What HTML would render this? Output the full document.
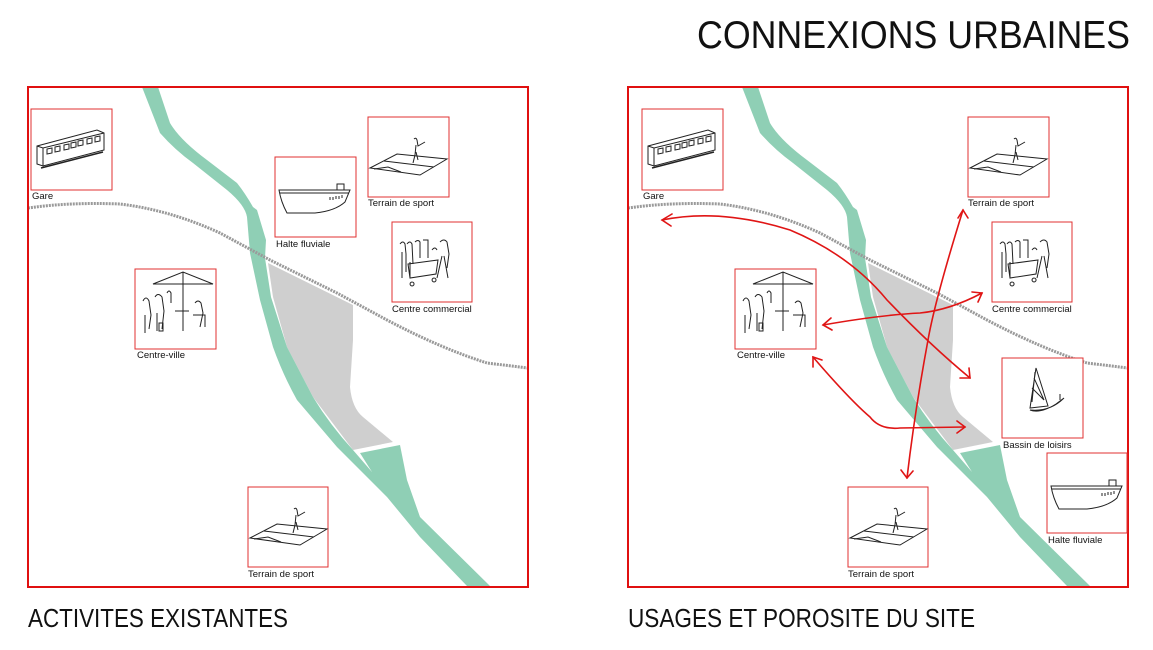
<!DOCTYPE html>
<html><head><meta charset="utf-8"><style>
html,body{margin:0;padding:0;background:#fff;width:1153px;height:650px;overflow:hidden}
text{font-family:"Liberation Sans",Arial,sans-serif}
.lb{font-size:9.5px;fill:#111}
</style></head><body>
<svg width="1153" height="650" viewBox="0 0 1153 650" xmlns="http://www.w3.org/2000/svg">
<defs>
<g id="train" fill="none" stroke="#222" stroke-width="1">
<path d="M6,37 L66,21 L73,24 L73,41 L12,57 L6,55 Z"/>
<path d="M6,37 L12,39 L73,24 M12,39 L12,57"/>
<path d="M16,40 l5,-1 v5 l-5,1z M24,38 l5,-1 v5 l-5,1z M33,36 l5,-1 v5 l-5,1z M40,34 l5,-1 v5 l-5,1z M47,32 l5,-1 v5 l-5,1z M56,30 l5,-1 v5 l-5,1z M64,28 l5,-1 v5 l-5,1z"/>
<path d="M10,59 L72,43" stroke-width="1.6"/>
</g>
<g id="boat" fill="none" stroke="#222" stroke-width="1">
<path d="M4,33 L75,33 L70,45 Q60,54 40,56 L12,56 Q6,45 4,33 Z"/>
<path d="M5,36 L74,36"/>
<path d="M62,33 v-6 h7 v6"/>
<path d="M55,40 v3 M58,40 v3 M61,39 v3 M64,39 v3 M67,38 v3"/>
</g>
<g id="field" fill="none" stroke="#222" stroke-width="1">
<path d="M2,51 L29,37 L79,42 L52,58 Z"/>
<path d="M16,44 L66,50 M6,52 L20,50 L33,55"/>
<path d="M46,22 q2,-2 3,1 l1,6 l7,-4 M48,28 l-1,10 l-2,8 M48,35 l2,8"/>
</g>
<g id="shop" fill="none" stroke="#222" stroke-width="1">
<path d="M8,22 q3,-4 5,0 l1,10 v18 M10,30 v26 M15,22 q3,-4 5,0 l1,20 M18,40 v16 M23,20 q3,-3 5,0 v16 M31,18 h5 v18 M40,28 q3,-4 5,0 M48,20 q4,-4 7,0 l2,12 l-2,14 M52,34 l4,22 M50,34 l-5,22"/>
<path d="M16,42 L46,38 L44,52 L18,56 Z M20,60 a2,2 0 1,0 0.1,0 M42,56 a2,2 0 1,0 0.1,0"/>
</g>
<g id="cafe" fill="none" stroke="#222" stroke-width="1">
<path d="M18,15 L48,3 L78,15 Z M48,3 V62"/>
<path d="M8,32 q3,-6 6,0 l2,14 l-2,14 M10,46 v18 M20,28 q3,-5 7,0 l2,14 l-2,18 M22,44 v18 M32,24 q2,-4 4,0 v10 M40,42 h14 M60,34 q3,-4 6,0 l2,10 l-3,14 M58,46 l12,0 v12"/>
<path d="M24,54 h4 v8 h-4z"/>
</g>
<g id="sail" fill="none" stroke="#222" stroke-width="1">
<path d="M26,10 L20,50 L38,48 Z M24,20 l10,22 M22,30 l12,12 M25,14 l-3,30"/>
<path d="M20,52 Q40,54 54,40 L46,46 Q30,56 20,52 Z"/>
<path d="M50,36 v6"/>
</g>
</defs>

<text x="697" y="48" font-size="39" fill="#111" textLength="433" lengthAdjust="spacingAndGlyphs">CONNEXIONS URBAINES</text>
<text x="28" y="627" font-size="26" fill="#111" textLength="260" lengthAdjust="spacingAndGlyphs">ACTIVITES EXISTANTES</text>
<text x="628" y="627" font-size="26" fill="#111" textLength="347" lengthAdjust="spacingAndGlyphs">USAGES ET POROSITE DU SITE</text>

<g id="mapL">
<path d="M268,263 L353,305 L353,340 L350,387 Q352,408 363,417 L393,442 L353,450 L313,397 L287,347 L273,297 Z" fill="#cfcfcf"/>
<path d="M142,87 L160,133 Q175,150 193,163 L227,190 Q245,205 247,217 L250,253 L260,300 L273,347 Q283,375 297,400 L337,447 L387,497 L420,537 L467,586 L490,586 L420,517 L407,480 L400,445 L360,453 L372,472 L353,450 Q330,425 313,397 L287,347 L271,297 L265,258 L266,240 L257,210 L253,207 Q245,193 237,183 L207,160 Q180,140 170,123 L158,87 Z" fill="#8fcfb5"/>
<path d="M28,208 Q70,202 120,204 Q170,210 220,233 L270,260 L337,293 L387,320 Q440,348 487,363 L528,368" fill="none" stroke="#9a9a9a" stroke-width="3" stroke-dasharray="2,1"/>
</g>
<rect x="28" y="87" width="500" height="500" fill="none" stroke="#e01010" stroke-width="2"/>

<rect x="31" y="109" width="81" height="81" fill="#fff" stroke="#e03030" stroke-width="1"/><use href="#train" x="31" y="109"/>
<text class="lb" x="32" y="199">Gare</text>
<rect x="275" y="157" width="81" height="80" fill="#fff" stroke="#e03030" stroke-width="1"/><use href="#boat" x="275" y="157"/>
<text class="lb" x="276" y="247">Halte fluviale</text>
<rect x="368" y="117" width="81" height="80" fill="#fff" stroke="#e03030" stroke-width="1"/><use href="#field" x="368" y="117"/>
<text class="lb" x="368" y="206">Terrain de sport</text>
<rect x="392" y="222" width="80" height="80" fill="#fff" stroke="#e03030" stroke-width="1"/><use href="#shop" x="392" y="222"/>
<text class="lb" x="392" y="312">Centre commercial</text>
<rect x="135" y="269" width="81" height="80" fill="#fff" stroke="#e03030" stroke-width="1"/><use href="#cafe" x="135" y="269"/>
<text class="lb" x="137" y="358">Centre-ville</text>
<rect x="248" y="487" width="80" height="80" fill="#fff" stroke="#e03030" stroke-width="1"/><use href="#field" x="248" y="487"/>
<text class="lb" x="248" y="577">Terrain de sport</text>

<use href="#mapL" x="600" y="0"/>
<rect x="628" y="87" width="500" height="500" fill="none" stroke="#e01010" stroke-width="2"/>

<rect x="642" y="109" width="81" height="81" fill="#fff" stroke="#e03030" stroke-width="1"/><use href="#train" x="642" y="109"/>
<text class="lb" x="643" y="199">Gare</text>
<rect x="968" y="117" width="81" height="80" fill="#fff" stroke="#e03030" stroke-width="1"/><use href="#field" x="968" y="117"/>
<text class="lb" x="968" y="206">Terrain de sport</text>
<rect x="992" y="222" width="80" height="80" fill="#fff" stroke="#e03030" stroke-width="1"/><use href="#shop" x="992" y="222"/>
<text class="lb" x="992" y="312">Centre commercial</text>
<rect x="735" y="269" width="81" height="80" fill="#fff" stroke="#e03030" stroke-width="1"/><use href="#cafe" x="735" y="269"/>
<text class="lb" x="737" y="358">Centre-ville</text>
<rect x="1002" y="358" width="81" height="80" fill="#fff" stroke="#e03030" stroke-width="1"/><use href="#sail" x="1010" y="358"/>
<text class="lb" x="1003" y="448">Bassin de loisirs</text>
<rect x="1047" y="453" width="80" height="80" fill="#fff" stroke="#e03030" stroke-width="1"/><use href="#boat" x="1047" y="453"/>
<text class="lb" x="1048" y="543">Halte fluviale</text>
<rect x="848" y="487" width="80" height="80" fill="#fff" stroke="#e03030" stroke-width="1"/><use href="#field" x="848" y="487"/>
<text class="lb" x="848" y="577">Terrain de sport</text>

<g fill="none" stroke="#e01515" stroke-width="1.6" stroke-linecap="round">
<path d="M662,220 Q720,208 790,230 Q850,255 887,300 Q930,345 970,378"/>
<path d="M672,214 L662,220 L671,226 M960,378 L970,378 L969,368"/>
<path d="M823,325 Q880,315 920,313 Q950,310 982,293"/>
<path d="M831,318 L823,325 L832,330 M972,292 L982,293 L978,302"/>
<path d="M813,357 Q850,400 870,417 Q880,430 900,428 L965,427"/>
<path d="M813,367 L813,357 L822,360 M957,421 L965,427 L957,433"/>
<path d="M963,210 Q935,300 928,340 Q915,410 907,478"/>
<path d="M958,218 L963,210 L968,218 M901,470 L907,478 L913,471"/>
</g>
</svg>
</body></html>
